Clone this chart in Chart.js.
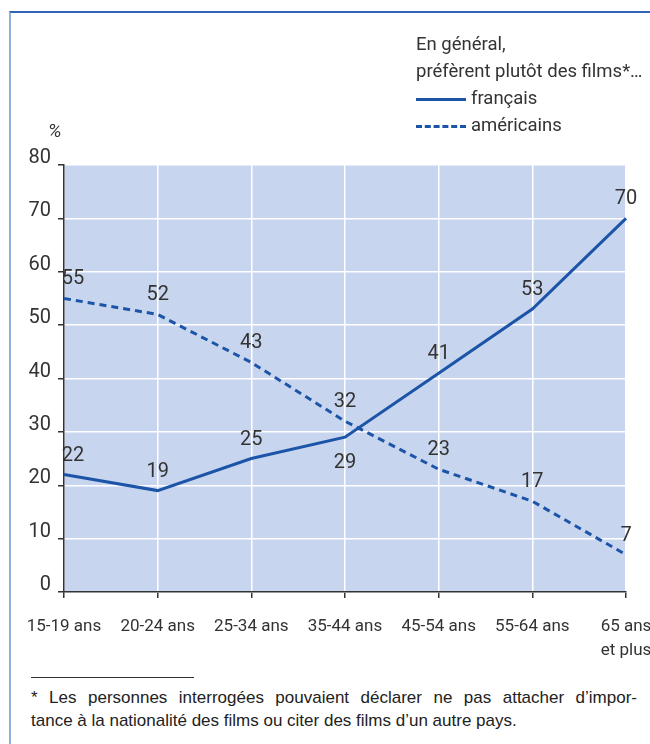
<!DOCTYPE html>
<html>
<head>
<meta charset="utf-8">
<script src="https://cdn.jsdelivr.net/npm/chart.js@4/dist/chart.umd.min.js"></script>
<style>
  body { margin: 0; background: #fff; font-family: Roboto, 'Liberation Sans', sans-serif; color: #333; }
  #wrap { position: relative; width: 650px; height: 744px; overflow: hidden; }
  #frame { position: absolute; left: 9px; top: 11px; width: 700px; height: 800px; border-top: 2px solid #2f63b4; border-left: 2px solid #8fb0dc; }
  #c { position: absolute; left: 0; top: 0; }
  .txt { position: absolute; font-size: 18.5px; color: #333; white-space: nowrap; }
  .leg { position: absolute; left: 416px; width: 50px; height: 0; }
  .foot { position: absolute; left: 31px; width: 606px; font-family: 'Liberation Sans', Arial, sans-serif; font-size: 17px; color: #222; white-space: nowrap; }
  #footRule { position: absolute; left: 31px; top: 677px; width: 163px; border-top: 1px solid #333; }
</style>
</head>
<body>
<div id="wrap">
  <div id="frame"></div>
  <canvas id="c" width="650" height="665"></canvas>
  <div class="txt" style="left:416px; top:33px;">En général,</div>
  <div class="txt" style="left:416px; top:60px;">préfèrent plutôt des films*…</div>
  <div class="leg" style="top:98px; border-top:3px solid #1c55a8;"></div>
  <div class="txt" style="left:471px; top:87px;">français</div>
  <div class="leg" style="top:125px; border-top:3px dashed #1c55a8;"></div>
  <div class="txt" style="left:471px; top:114px;">américains</div>
  <div class="txt" style="left:48px; top:119px; font-style:italic; font-size:19px;">%</div>
  <div id="footRule"></div>
  <div class="foot" style="top:688px; text-align:justify; text-align-last:justify; white-space:normal;">* Les personnes interrogées pouvaient déclarer ne pas attacher d’impor-</div>
  <div class="foot" style="top:711px;">tance à la nationalité des films ou citer des films d’un autre pays.</div>
</div>
<script>
const categories = ['15-19 ans', '20-24 ans', '25-34 ans', '35-44 ans', '45-54 ans', '55-64 ans', ['65 ans', 'et plus']];
const francais = [22, 19, 25, 29, 41, 53, 70];
const americains = [55, 52, 43, 32, 23, 17, 7];
const yTicks = [0, 10, 20, 30, 40, 50, 60, 70, 80];

// where the value label goes for each point (above/below)
const frLabelSide = ['above', 'above', 'above', 'below', 'above', 'above', 'above'];
const amLabelSide = ['above', 'above', 'above', 'above', 'above', 'above', 'above'];

const lineColor = '#1c55a8';
const fontFam = "Roboto, 'Liberation Sans', sans-serif";

const plotBg = {
  id: 'plotBg',
  beforeDraw(chart) {
    const a = chart.chartArea, ctx = chart.ctx;
    ctx.save();
    ctx.fillStyle = '#c8d5ee';
    ctx.fillRect(a.left, a.top, a.right - a.left, a.bottom - a.top);
    ctx.restore();
  }
};

const valueLabels = {
  id: 'valueLabels',
  afterDatasetsDraw(chart) {
    const ctx = chart.ctx;
    ctx.save();
    ctx.font = '20px ' + fontFam;
    ctx.fillStyle = '#333';
    ctx.textAlign = 'center';
    ctx.textBaseline = 'middle';
    chart.data.datasets.forEach((ds, di) => {
      const sides = di === 0 ? frLabelSide : amLabelSide;
      chart.getDatasetMeta(di).data.forEach((pt, i) => {
        let x = pt.x;
        if (i === 0) x += 9;
        const y = sides[i] === 'below' ? pt.y + 26 : pt.y - 19;
        ctx.fillText(ds.data[i], x, y);
      });
    });
    ctx.restore();
  }
};

Chart.defaults.font.family = fontFam;
Chart.defaults.color = '#333';

new Chart(document.getElementById('c'), {
  type: 'line',
  data: {
    labels: categories,
    datasets: [
      { label: 'français', data: francais, borderColor: lineColor, borderWidth: 3, pointRadius: 0, tension: 0, fill: false },
      { label: 'américains', data: americains, borderColor: lineColor, borderWidth: 3, borderDash: [7, 5], pointRadius: 0, tension: 0, fill: false }
    ]
  },
  options: {
    responsive: false,
    animation: false,
    devicePixelRatio: 1,
    layout: { padding: { left: 0, right: 24, top: 165, bottom: 0 } },
    plugins: { legend: { display: false }, tooltip: { enabled: false } },
    scales: {
      x: {
        offset: false,
        grid: { color: '#ffffff', lineWidth: 1.5, tickColor: '#333', tickLength: 6, drawOnChartArea: true },
        border: { color: '#333', width: 1.5 },
        ticks: { font: { size: 17, lineHeight: 1.4 }, color: '#333', padding: 17, maxRotation: 0, autoSkip: false },
        afterFit(s) { s.height = 73; s.paddingLeft = 0; s.paddingRight = 0; }
      },
      y: {
        min: 0, max: 80,
        afterBuildTicks(s) { s.ticks = yTicks.map(v => ({ value: v })); },
        grid: { color: '#ffffff', lineWidth: 1.5, tickColor: '#333', tickLength: 6 },
        border: { color: '#333', width: 1.5 },
        ticks: { font: { size: 20 }, color: '#333', padding: 7, labelOffset: -7 },
        afterFit(s) { s.width = 64; }
      }
    }
  },
  plugins: [plotBg, valueLabels]
});
</script>
</body>
</html>
